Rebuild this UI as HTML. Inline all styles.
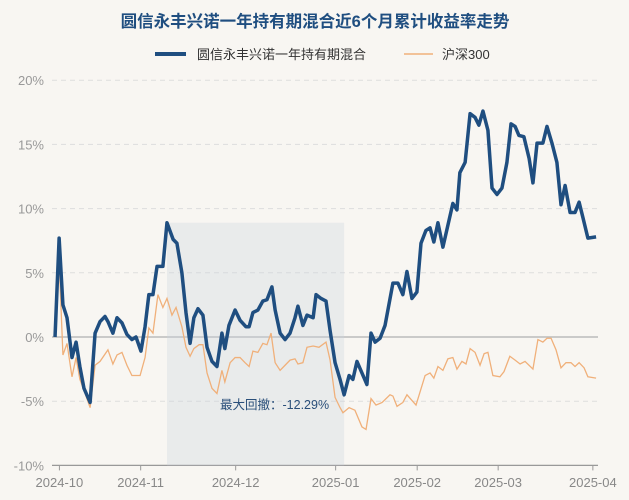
<!DOCTYPE html>
<html><head><meta charset="utf-8"><style>
body{margin:0;background:#f8f6f2;}
svg{display:block;font-family:"Liberation Sans","Noto Sans CJK SC",sans-serif;}
</style></head><body>
<svg id="c" width="629" height="500">
<rect width="629" height="500" fill="#f8f6f2"/>
<text x="315" y="27" text-anchor="middle" font-size="16.5" font-weight="bold" fill="#1f4e80">圆信永丰兴诺一年持有期混合近6个月累计收益率走势</text>
<g><line x1="155" y1="54" x2="186" y2="54" stroke="#1f4e80" stroke-width="4"/><text x="197" y="59" font-size="13" fill="#333">圆信永丰兴诺一年持有期混合</text></g>
<g><line x1="404" y1="54" x2="433" y2="54" stroke="#f0b07a" stroke-width="1.5"/><text x="442" y="59" font-size="13" fill="#333">沪深300</text></g>
<g id="grid"></g><g id="marks"></g>
</svg>
<script>
const yTicks=[20,15,10,5,0,-5,-10];
const xTickLabels=["2024-10","2024-11","2024-12","2025-01","2025-02","2025-03","2025-04"];
const xTickDays=[-0.2,27.6,60.1,94.3,122.2,149.9,182.3];
const fundDays=[-1.7,-0.3,1.0,2.4,4.1,5.5,6.8,8.2,10.3,12.0,13.7,15.4,16.4,18.1,19.5,21.2,22.9,24.6,26.0,27.7,29.1,30.4,31.8,33.2,35.2,36.6,38.7,40.0,41.7,43.1,44.5,45.8,47.2,48.9,50.3,52.0,53.7,55.4,56.4,57.8,59.9,61.6,63.6,64.7,66.0,67.7,69.4,70.8,72.5,73.6,75.3,77.0,78.7,80.4,81.4,83.1,84.5,86.6,87.6,89.3,91.0,92.4,94.1,95.8,97.2,98.9,100.2,101.6,105.0,106.4,107.8,109.5,111.2,113.9,115.6,117.3,118.7,120.4,122.1,123.5,125.2,126.6,127.9,129.3,131.0,134.4,135.8,136.8,138.6,140.3,142.0,143.3,144.7,146.4,147.8,149.5,151.2,152.9,154.3,155.7,157.0,158.7,160.5,161.8,163.2,165.2,166.6,168.3,170.0,171.4,172.8,174.5,176.2,177.6,178.9,180.6,183.4];
const fundValues=[0,7.7,2.5,1.5,-1.6,-0.4,-2.3,-4.0,-5.1,0.3,1.2,1.6,1.2,0.3,1.5,1.1,0.2,-0.2,0,-1.1,0.8,3.3,3.3,5.5,5.5,8.9,7.6,7.3,5.0,1.9,-0.5,1.5,2.2,1.7,-0.8,-1.9,-2.3,0.3,-0.9,0.9,2.1,1.3,0.8,0.8,1.9,2.1,2.8,2.9,3.9,2.1,0.3,-0.2,0.3,1.5,2.4,0.9,1.7,1.5,3.3,3.0,2.8,0.5,-2.0,-3.3,-4.5,-3.0,-3.3,-1.9,-3.7,0.3,-0.4,-0.1,0.9,4.2,4.2,3.3,5.1,3.0,3.5,7.3,8.3,8.5,7.4,8.9,7.0,10.4,9.9,12.8,13.6,17.4,17.1,16.5,17.6,16.1,11.6,11.1,11.6,13.6,16.6,16.4,15.7,15.6,13.9,12.0,15.1,15.1,16.4,15.1,13.6,10.3,11.8,9.7,9.7,10.5,9.3,7.7,7.8];
const hsDays=[-1.7,-0.3,1.0,2.4,4.1,5.5,6.8,8.6,10.3,12.0,13.7,16.4,18.1,19.5,21.2,22.9,24.6,27.4,29.1,30.4,31.8,33.5,35.2,36.6,38.3,39.7,41.7,43.1,44.5,45.8,47.6,48.9,50.3,52.0,53.7,55.4,56.4,58.2,59.9,61.6,63.3,64.7,66.0,67.7,69.4,70.8,72.2,73.6,75.3,77.0,78.7,80.4,81.4,83.1,84.5,86.6,88.6,91.0,92.4,94.1,95.8,96.8,98.9,100.9,103.3,104.7,106.4,108.1,110.2,112.9,113.9,115.3,117.3,118.7,121.8,124.9,126.6,127.9,129.3,131.0,132.7,134.4,135.8,137.5,138.9,140.3,142.0,143.7,145.1,146.4,148.1,150.5,151.9,153.9,155.7,157.4,159.1,161.8,163.5,165.2,166.6,168.0,169.7,171.4,173.1,174.8,176.2,177.6,179.3,180.6,183.4];
const hsValues=[0,6.0,-1.4,-0.5,-3.1,-1.6,-3.3,-4.4,-5.5,-2.2,-1.9,-1.0,-2.1,-1.4,-1.2,-2.2,-3.0,-3.0,-1.6,0.7,0.3,3.3,2.3,3.0,1.7,2.3,0.8,-0.8,-1.5,-0.9,-0.6,-0.6,-2.8,-4.0,-4.4,-2.6,-3.5,-2.0,-1.6,-1.6,-2.0,-2.3,-1.1,-1.2,-0.5,-0.6,0.3,-2.0,-2.6,-2.2,-1.8,-1.7,-2.1,-2.0,-0.8,-0.7,-0.8,-0.4,-1.8,-4.7,-5.5,-5.9,-5.5,-5.7,-7.0,-7.2,-4.8,-5.3,-5.1,-4.5,-4.6,-5.4,-5.1,-4.5,-5.3,-3.0,-2.8,-3.2,-2.3,-2.6,-1.7,-1.6,-2.5,-1.9,-2.1,-0.9,-1.2,-2.2,-1.3,-1.2,-3.0,-3.1,-2.7,-1.5,-1.8,-2.1,-1.9,-2.5,-0.2,-0.4,-0.1,-0.1,-1.0,-2.4,-2.0,-2.0,-2.3,-2.0,-2.4,-3.1,-3.2];
const drawdownLabel="最大回撤：-12.29%";
const NS="http://www.w3.org/2000/svg";
const X0=60,PXD=2.923,Y0=337,PXV=12.84,LEFT=52,RIGHT=598;
const x=d=>X0+d*PXD, y=v=>Y0-v*PXV;
function mk(tag,attrs,parent){const e=document.createElementNS(NS,tag);for(const k in attrs)e.setAttribute(k,attrs[k]);parent.appendChild(e);return e;}
const grid=document.getElementById('grid'),marks=document.getElementById('marks');
yTicks.forEach(t=>{
  const l=mk('line',{x1:LEFT,x2:RIGHT,y1:y(t),y2:y(t),stroke:t===0?'#bbb':'#ddd','stroke-width':t===0?1.5:1,'stroke-dasharray':(t===0||t===-10)?'':'5,4'},grid);
  
  
  const tx=mk('text',{x:44,y:y(t)+5,'text-anchor':'end','font-size':13,fill:'#999'},grid);
  tx.textContent=t+'%';
  
  
});
mk('line',{x1:LEFT,x2:RIGHT,y1:y(-10),y2:y(-10),stroke:'#999','stroke-width':1.2},grid);
xTickDays.forEach((d,i)=>{
  mk('line',{x1:x(d),x2:x(d),y1:y(-10),y2:y(-10)+5,stroke:'#999'},grid);
  const tx=mk('text',{x:x(d),y:487,'text-anchor':'middle','font-size':13,fill:'#888'},grid);
  tx.textContent=xTickLabels[i];
  
  
});
let pk=0,best=0,bi=0,bj=0;
fundValues.forEach((v,i)=>{if(v>fundValues[pk])pk=i;const dd=(1+v/100)/(1+fundValues[pk]/100)-1;if(dd<best){best=dd;bi=pk;bj=i;}});
const sh=mk('rect',{x:x(fundDays[bi]),y:y(fundValues[bi]),width:x(fundDays[bj])-x(fundDays[bi]),height:y(-10)-y(fundValues[bi]),fill:'#c9d3dc','fill-opacity':0.32},marks);


const lb=mk('text',{x:220,y:409,'font-size':12.5,fill:'#2a4f7a'},marks);
lb.textContent=drawdownLabel;


const hp=mk('polyline',{points:hsDays.map((d,i)=>x(d)+','+y(hsValues[i])).join(' '),fill:'none',stroke:'#f0b07a','stroke-width':1.3},marks);


const fp=mk('polyline',{points:fundDays.map((d,i)=>x(d)+','+y(fundValues[i])).join(' '),fill:'none',stroke:'#1f4e80','stroke-width':3.5,'stroke-linejoin':'round'},marks);


</script>
</body></html>
